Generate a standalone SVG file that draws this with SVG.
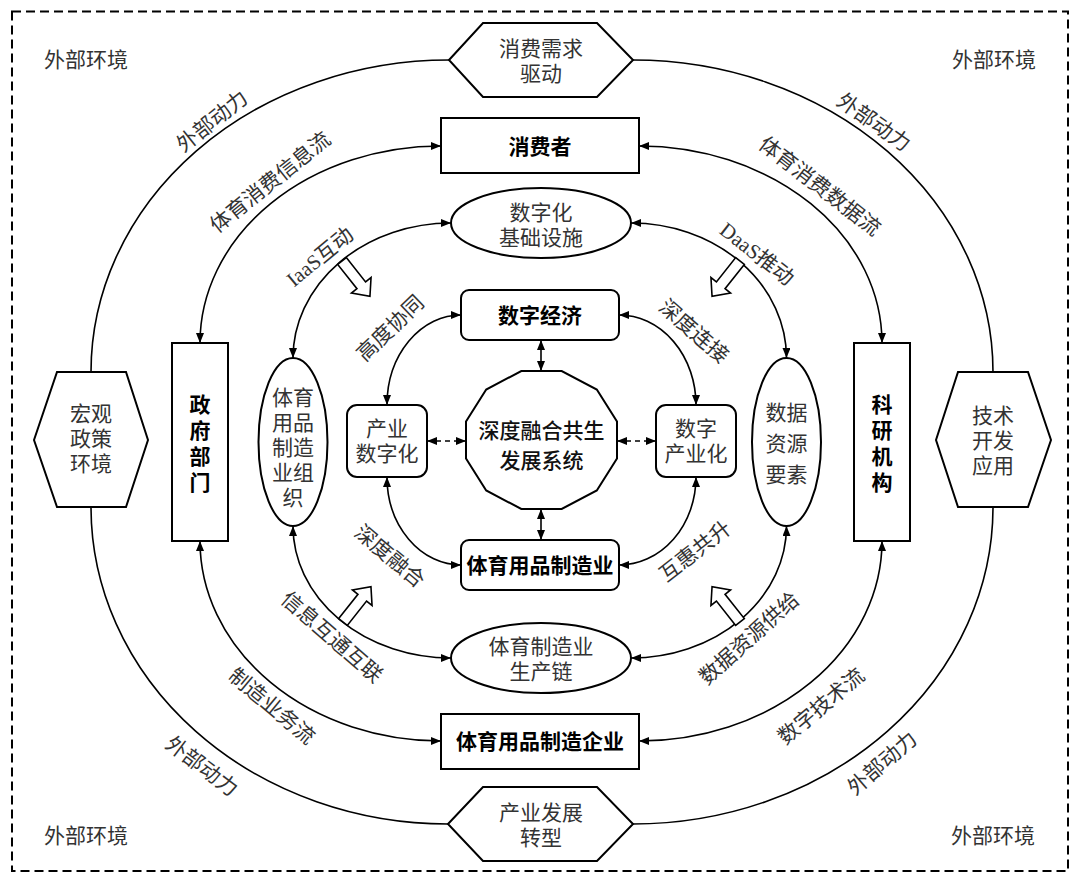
<svg xmlns="http://www.w3.org/2000/svg" width="1071" height="876" viewBox="0 0 1071 876">
<style>
.ln{fill:none;stroke:#000;stroke-width:1.6}
.ar{marker-start:url(#ah);marker-end:url(#ah)}
.dash{stroke-dasharray:5,4}
.sh{fill:#fff;stroke:#000;stroke-width:2}
.t{font-family:"Liberation Sans","Noto Sans CJK SC",sans-serif;font-size:21px;fill:#333;text-anchor:middle;dominant-baseline:central}
.lat{font-family:"Liberation Serif","Noto Sans CJK SC",serif}
.b{font-weight:bold;fill:#000}
</style>
<defs>
<marker id="ah" viewBox="0 0 10 8" refX="10" refY="4" markerWidth="10" markerHeight="8" markerUnits="userSpaceOnUse" orient="auto-start-reverse">
<path d="M0,0 L10,4 L0,8 z" fill="#000"/>
</marker>
<polygon id="hollow" points="0,-5.5 31,-5.5 31,-12.5 45,0 31,12.5 31,5.5 0,5.5" fill="#fff" stroke="#000" stroke-width="1.6"/>
</defs>
<rect x="12" y="11.5" width="1056" height="859.5" fill="none" stroke="#000" stroke-width="2" stroke-dasharray="9,5"/>
<g id="connectors">
<path class="ln" d="M449,60 A358,312 0 0 0 91,372"/>
<path class="ln" d="M91,507 A357,317 0 0 0 448,824"/>
<path class="ln" d="M633,60 A360,312 0 0 1 993,372"/>
<path class="ln" d="M993,507 A360,317 0 0 1 633,824"/>
<path class="ln ar" d="M441,146 A241,197 0 0 0 200,343"/>
<path class="ln ar" d="M200,541 A241,200 0 0 0 441,741"/>
<path class="ln ar" d="M639,146 A243,197 0 0 1 882,343"/>
<path class="ln ar" d="M882,541 A243,200 0 0 1 639,741"/>
<path class="ln ar" d="M451,223 A158,135 0 0 0 293,358"/>
<path class="ln ar" d="M293,526 A158,132 0 0 0 451,658"/>
<path class="ln ar" d="M631,223 A155.5,135 0 0 1 786.5,358"/>
<path class="ln ar" d="M786.5,526 A155.5,132 0 0 1 631,658"/>
<path class="ln ar" d="M461,315 A74,90 0 0 0 387,405"/>
<path class="ln ar" d="M387,477 A74,88 0 0 0 461,565"/>
<path class="ln ar" d="M619,315 A77,90 0 0 1 696,405"/>
<path class="ln ar" d="M696,477 A77,88 0 0 1 619,565"/>
<path class="ln ar" d="M541,340 L541,371"/>
<path class="ln ar" d="M541,509 L541,540"/>
<path class="ln ar dash" d="M427,441 L466,441"/>
<path class="ln ar dash" d="M617,441 L656,441"/>
<use href="#hollow" transform="translate(342,261) rotate(51.6)"/>
<use href="#hollow" transform="translate(740,261) rotate(128.4)"/>
<use href="#hollow" transform="translate(343,622) rotate(-51.6)"/>
<use href="#hollow" transform="translate(740,622) rotate(-128.4)"/>
</g>
<g id="labels">
<text class="t" x="86" y="59">外部环境</text>
<text class="t" x="994" y="59">外部环境</text>
<text class="t" x="86" y="835">外部环境</text>
<text class="t" x="993" y="835">外部环境</text>
<text class="t" transform="translate(212,121) rotate(-38.6)">外部动力</text>
<text class="t" transform="translate(270,182) rotate(-38.6)">体育消费信息流</text>
<text class="t lat" transform="translate(320,257) rotate(-39.6)">IaaS互动</text>
<text class="t" transform="translate(874,122) rotate(35)">外部动力</text>
<text class="t" transform="translate(820,186) rotate(37.7)">体育消费数据流</text>
<text class="t lat" transform="translate(757,254) rotate(38)">DaaS推动</text>
<text class="t" transform="translate(390,328) rotate(-44)">高度协同</text>
<text class="t" transform="translate(390,556) rotate(40)">深度融合</text>
<text class="t" transform="translate(694,331) rotate(41)">深度连接</text>
<text class="t" transform="translate(695,551) rotate(-38)">互惠共升</text>
<text class="t" transform="translate(332,637) rotate(41)">信息互通互联</text>
<text class="t" transform="translate(272,706) rotate(40)">制造业务流</text>
<text class="t" transform="translate(202,766) rotate(37)">外部动力</text>
<text class="t" transform="translate(749,638) rotate(-42)">数据资源供给</text>
<text class="t" transform="translate(821,706) rotate(-40)">数字技术流</text>
<text class="t" transform="translate(882,763) rotate(-41)">外部动力</text>
</g>
<g id="n-demand">
<polygon class="sh" points="449,60 483,23 597,23 633,60 597,97 483,97"/>
<text class="t" x="541" y="48"><tspan x="541">消费需求</tspan><tspan x="541" dy="25">驱动</tspan></text>
</g>
<g id="n-transform">
<polygon class="sh" points="448,824 483,787 597,787 633,824 597,861 483,861"/>
<text class="t" x="541" y="812"><tspan x="541">产业发展</tspan><tspan x="541" dy="25">转型</tspan></text>
</g>
<g id="n-policy">
<polygon class="sh" points="34,440 57,372 126,372 148,440 126,507 57,507"/>
<text class="t" x="91" y="413"><tspan x="91">宏观</tspan><tspan x="91" dy="25">政策</tspan><tspan x="91" dy="25">环境</tspan></text>
</g>
<g id="n-tech">
<polygon class="sh" points="936,440 958,372 1028,372 1051,440 1028,507 958,507"/>
<text class="t" x="993" y="415"><tspan x="993">技术</tspan><tspan x="993" dy="25">开发</tspan><tspan x="993" dy="25">应用</tspan></text>
</g>
<g id="n-consumer">
<rect class="sh" x="441" y="118" width="198" height="55"/>
<text class="t b" x="540" y="146">消费者</text>
</g>
<g id="n-enterprise">
<rect class="sh" x="441" y="714" width="198" height="55"/>
<text class="t b" x="540" y="741">体育用品制造企业</text>
</g>
<g id="n-gov">
<rect class="sh" x="172" y="343" width="56" height="198"/>
<text class="t b" x="200" y="404"><tspan x="200">政</tspan><tspan x="200" dy="26">府</tspan><tspan x="200" dy="26">部</tspan><tspan x="200" dy="26">门</tspan></text>
</g>
<g id="n-research">
<rect class="sh" x="854" y="343" width="56" height="198"/>
<text class="t b" x="882" y="404"><tspan x="882">科</tspan><tspan x="882" dy="26">研</tspan><tspan x="882" dy="26">机</tspan><tspan x="882" dy="26">构</tspan></text>
</g>
<g id="n-infra">
<ellipse class="sh" cx="541" cy="223" rx="90" ry="35"/>
<text class="t" x="541" y="212"><tspan x="541">数字化</tspan><tspan x="541" dy="25">基础设施</tspan></text>
</g>
<g id="n-chain">
<ellipse class="sh" cx="541" cy="658" rx="90" ry="35"/>
<text class="t" x="541" y="646"><tspan x="541">体育制造业</tspan><tspan x="541" dy="25">生产链</tspan></text>
</g>
<g id="n-org">
<ellipse class="sh" cx="293" cy="442" rx="34.5" ry="84"/>
<text class="t" x="293" y="397"><tspan x="293">体育</tspan><tspan x="293" dy="25">用品</tspan><tspan x="293" dy="25">制造</tspan><tspan x="293" dy="25">业组</tspan><tspan x="293" dy="25">织</tspan></text>
</g>
<g id="n-data">
<ellipse class="sh" cx="786.5" cy="442" rx="34.5" ry="84"/>
<text class="t" x="786.5" y="412"><tspan x="786.5">数据</tspan><tspan x="786.5" dy="31">资源</tspan><tspan x="786.5" dy="31">要素</tspan></text>
</g>
<g id="n-digeco">
<rect class="sh" x="461" y="290" width="158" height="50" rx="8"/>
<text class="t b" x="540" y="315">数字经济</text>
</g>
<g id="n-mfg">
<rect class="sh" x="461" y="540" width="158" height="50" rx="8"/>
<text class="t b" x="540" y="565">体育用品制造业</text>
</g>
<g id="n-inddig">
<rect class="sh" x="347" y="405" width="80" height="72" rx="10"/>
<text class="t" x="387" y="428"><tspan x="387">产业</tspan><tspan x="387" dy="25">数字化</tspan></text>
</g>
<g id="n-digind">
<rect class="sh" x="656" y="405" width="80" height="72" rx="10"/>
<text class="t" x="696" y="428"><tspan x="696">数字</tspan><tspan x="696" dy="25">产业化</tspan></text>
</g>
<g id="n-system">
<polygon class="sh" points="617,421.5 617,458.5 596.8,490.5 561.7,509 521.3,509 486.2,490.5 466,458.5 466,421.5 486.2,389.5 521.3,371 561.7,371 596.8,389.5"/>
<text class="t" x="541.5" y="430" style="fill:#111;font-weight:500"><tspan x="541.5">深度融合共生</tspan><tspan x="541.5" dy="30">发展系统</tspan></text>
</g>
</svg>
